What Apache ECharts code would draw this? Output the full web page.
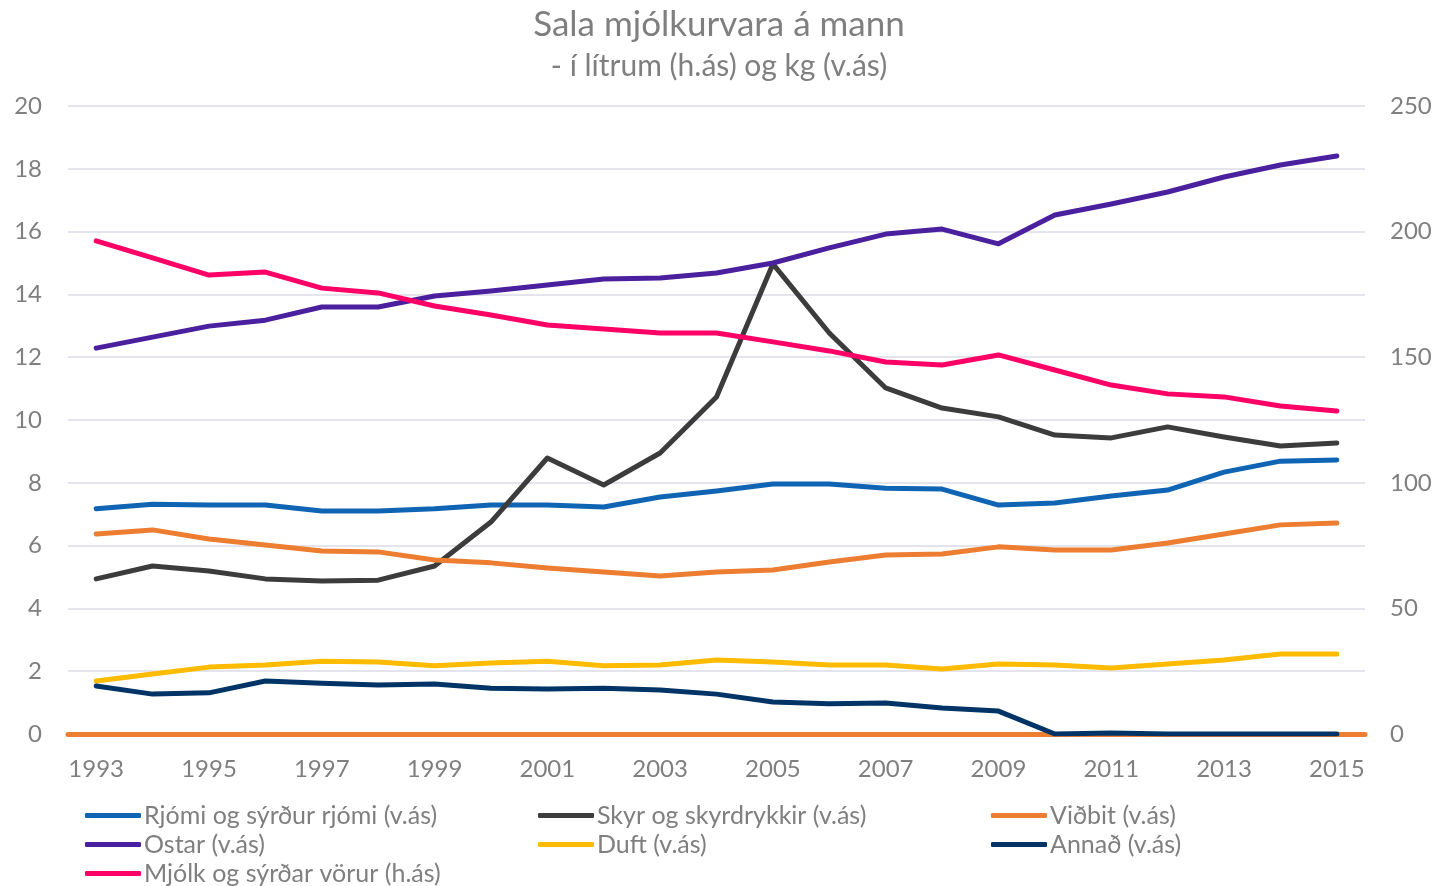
<!DOCTYPE html>
<html>
<head>
<meta charset="utf-8">
<script src="https://cdn.jsdelivr.net/npm/echarts@6/dist/echarts.min.js"></script>
<style>
  html, body { margin: 0; padding: 0; background: #fff; }
  #chart { width: 1448px; height: 886px; }
</style>
</head>
<body>
<div id="chart"></div>
<script>
// Ár (flokkar á x-ás)
const years = ['1993','1994','1995','1996','1997','1998','1999','2000','2001','2002','2003',
  '2004','2005','2006','2007','2008','2009','2010','2011','2012','2013','2014','2015'];

// Vinstri ás (kg á mann)
const rjomi = [7.17,7.32,7.29,7.29,7.10,7.10,7.17,7.29,7.29,7.23,7.55,7.74,7.96,7.96,7.83,7.80,7.29,7.36,7.58,7.77,8.34,8.69,8.73];
const skyr = [4.94,5.35,5.19,4.94,4.87,4.90,5.35,6.75,8.79,7.93,8.95,10.73,14.97,12.77,11.02,10.38,10.10,9.52,9.43,9.78,9.46,9.17,9.27];
const vidbit = [6.37,6.50,6.21,6.02,5.83,5.80,5.54,5.45,5.29,5.16,5.03,5.16,5.22,5.48,5.70,5.73,5.96,5.86,5.86,6.08,6.37,6.66,6.72];
const ostar = [12.29,12.64,12.99,13.18,13.60,13.60,13.95,14.11,14.30,14.49,14.52,14.68,15.00,15.48,15.92,16.08,15.61,16.53,16.88,17.26,17.74,18.12,18.41];
const duft = [1.69,1.91,2.13,2.20,2.32,2.29,2.17,2.26,2.32,2.17,2.20,2.36,2.29,2.20,2.20,2.07,2.23,2.20,2.10,2.23,2.36,2.55,2.55];
const annad = [1.53,1.27,1.31,1.69,1.62,1.56,1.59,1.46,1.43,1.46,1.40,1.27,1.02,0.96,0.99,0.83,0.73,0.00,0.03,0.00,0.00,0.00,0.00];

// Hægri ás (lítrar á mann)
const mjolk = [196.3,189.5,182.7,183.9,177.5,175.6,170.4,166.8,162.8,161.2,159.6,159.6,156.1,152.5,148.1,146.9,150.9,144.9,138.9,135.4,134.2,130.6,128.6];

const names = {
  rjomi: 'Rjómi og sýrður rjómi (v.ás)',
  skyr: 'Skyr og skyrdrykkir (v.ás)',
  vidbit: 'Viðbit (v.ás)',
  ostar: 'Ostar (v.ás)',
  duft: 'Duft (v.ás)',
  annad: 'Annað (v.ás)',
  mjolk: 'Mjólk og sýrðar vörur (h.ás)'
};

const FONT = 'Lato, "Open Sans", sans-serif';
const GREY = '#7f7f7f';

function line(name, data, color, yAxisIndex) {
  return {
    name, type: 'line', data, yAxisIndex: yAxisIndex || 0,
    symbol: 'none', smooth: false,
    lineStyle: { width: 5, color, cap: 'round', join: 'round' },
    itemStyle: { color }
  };
}

// one legend entry per slot, laid out as three columns by three rows
const colX = [85, 538, 991];
const rowY = [803, 832, 861];
function legendAt(name, col, row) {
  return {
    left: colX[col], top: rowY[row], padding: 0,
    itemWidth: 56, itemHeight: 5, icon: 'roundRect', itemGap: 0,
    textStyle: { fontFamily: FONT, fontSize: 25, color: GREY, padding: [0, 0, 0, -2] },
    data: [name]
  };
}

const chart = echarts.init(document.getElementById('chart'));
chart.setOption({
  animation: false,
  backgroundColor: '#ffffff',
  title: {
    text: 'Sala mjólkurvara á mann',
    subtext: '- í lítrum (h.ás) og kg (v.ás)',
    left: 714, textAlign: 'center', top: 2, itemGap: 9,
    textStyle: { fontFamily: FONT, fontSize: 35, fontWeight: 'normal', color: GREY },
    subtextStyle: { fontFamily: FONT, fontSize: 30, color: GREY }
  },
  legend: [
    legendAt(names.rjomi, 0, 0),
    legendAt(names.ostar, 0, 1),
    legendAt(names.mjolk, 0, 2),
    legendAt(names.skyr, 1, 0),
    legendAt(names.duft, 1, 1),
    legendAt(names.vidbit, 2, 0),
    legendAt(names.annad, 2, 1)
  ],
  grid: { left: 68, right: 83, top: 106, bottom: 152 },
  xAxis: {
    type: 'category', data: years, boundaryGap: true,
    axisLine: { show: true, lineStyle: { color: '#ED7D31', width: 5 } },
    axisTick: { show: false },
    axisLabel: { interval: 1, fontFamily: FONT, fontSize: 24, color: GREY, margin: 23 }
  },
  yAxis: [
    {
      type: 'value', min: 0, max: 20, interval: 2,
      axisLine: { show: false }, axisTick: { show: false },
      axisLabel: { fontFamily: FONT, fontSize: 24, color: GREY, margin: 26 },
      splitLine: { lineStyle: { color: '#e3e4ec', width: 2 } }
    },
    {
      type: 'value', min: 0, max: 250, interval: 50, position: 'right',
      axisLine: { show: false }, axisTick: { show: false },
      axisLabel: { fontFamily: FONT, fontSize: 24, color: GREY, margin: 25 },
      splitLine: { show: false }
    }
  ],
  series: [
    line(names.rjomi, rjomi, '#1064b4'),
    line(names.skyr, skyr, '#3c3c3c'),
    line(names.vidbit, vidbit, '#ED7D31'),
    line(names.ostar, ostar, '#4a209e'),
    line(names.duft, duft, '#FFBB00'),
    line(names.annad, annad, '#003466'),
    line(names.mjolk, mjolk, '#FF0066', 1)
  ]
});
</script>
</body>
</html>
